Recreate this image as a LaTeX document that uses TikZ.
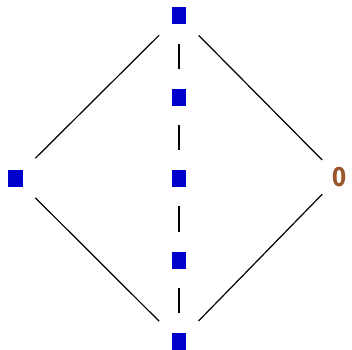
\documentclass[tikz,border=0pt]{standalone}
\usepackage{fontspec}
\newfontfamily\labelfont{DejaVu Sans}
\definecolor{vertexblue}{RGB}{0,0,204}
\definecolor{labelbrown}{RGB}{153,85,45}
\begin{document}
\begin{tikzpicture}[x=1pt,y=-1pt,
  vertex/.style={fill=vertexblue,draw=none,minimum width=14.5pt,minimum height=17pt,inner sep=0pt},
  edge/.style={line width=1.2pt,shorten >=28pt,shorten <=28pt},
  chain/.style={line width=1.4pt,shorten >=28pt,shorten <=28pt},
  zerolabel/.style={text=labelbrown,font=\labelfont\bfseries\fontsize{26}{26}\selectfont,inner sep=0pt,xscale=0.8,transform shape}]
  \useasboundingbox (0,0) rectangle (352,349);
  % vertices
  \node[vertex] (top) at (179,15.5) {};
  \node[vertex] (left) at (15.5,178) {};
  \node[vertex] (bot) at (179,341) {};
  \node[vertex] (m1) at (179,97) {};
  \node[vertex] (m2) at (179,178) {};
  \node[vertex] (m3) at (179,260) {};
  \node[zerolabel] (zero) at (339,177) {0};
  % outer edges
  \draw[edge] (top.center) -- (left.center);
  \draw[edge] (left.center) -- (bot.center);
  \draw[edge,shorten >=24pt] (top.center) -- (zero.center);
  \draw[edge,shorten <=24pt] (zero.center) -- (bot.center);
  % central chain
  \draw[chain] (top.center) -- (m1.center);
  \draw[chain] (m1.center) -- (m2.center);
  \draw[chain] (m2.center) -- (m3.center);
  \draw[chain] (m3.center) -- (bot.center);
\end{tikzpicture}
\end{document}
